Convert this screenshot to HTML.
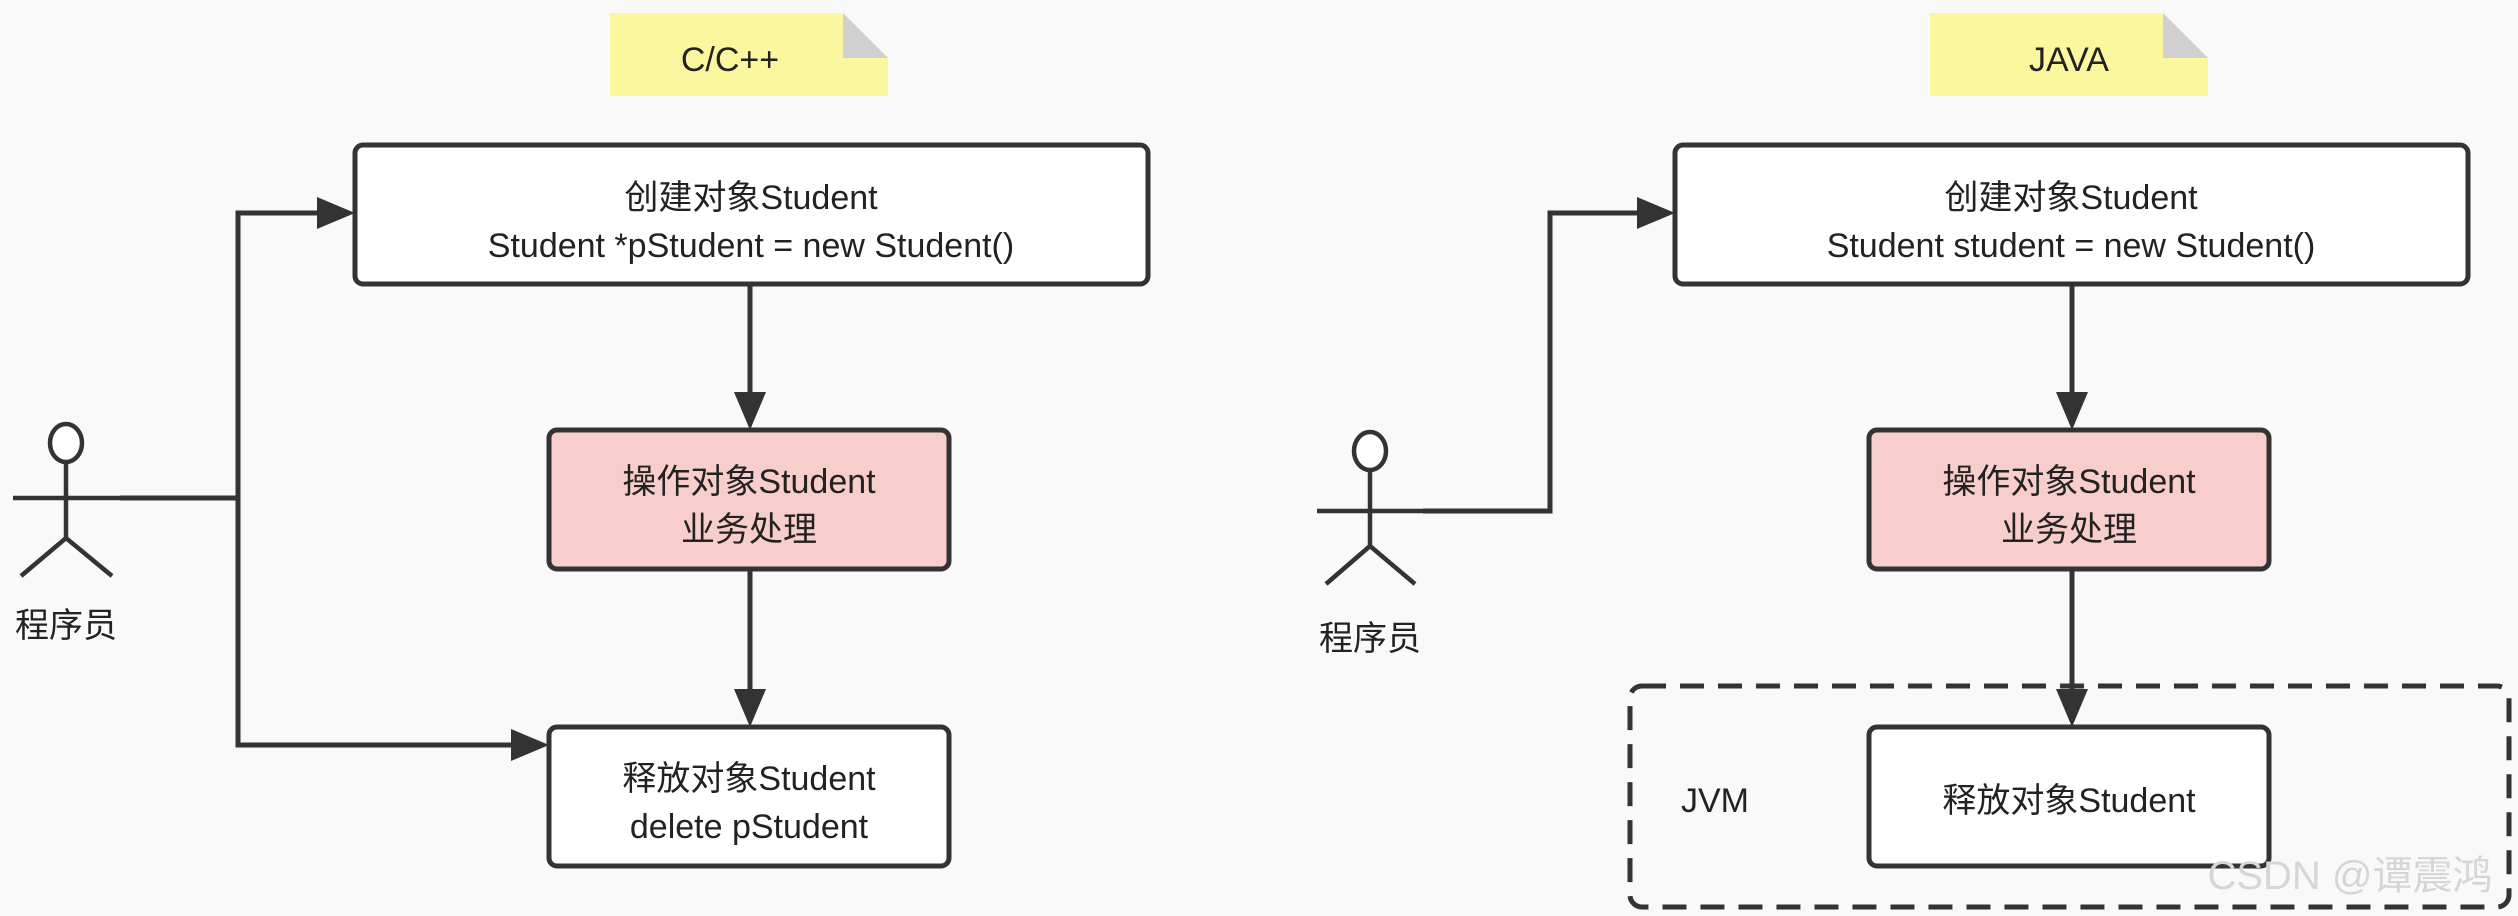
<!DOCTYPE html>
<html><head><meta charset="utf-8"><style>
html,body{margin:0;padding:0;background:#f9f9f9;}
svg{display:block}
text{font-family:"Liberation Sans","Noto Sans CJK SC",sans-serif;fill:#222;font-size:34px;text-anchor:middle;dominant-baseline:central}
</style></head><body>
<svg width="2518" height="916" viewBox="0 0 2518 916" xmlns="http://www.w3.org/2000/svg">
<defs>
<marker id="a" markerWidth="10" markerHeight="10" refX="9" refY="5" orient="auto" markerUnits="userSpaceOnUse" viewBox="0 0 10 10">
</marker>
</defs>
<rect width="2518" height="916" fill="#f9f9f9"/>
<!-- notes -->
<path d="M610 13 H843 L888 58 V96 H610 Z" fill="#fbf79e"/>
<path d="M843 13 L888 58 H843 Z" fill="#d0d0d0"/>
<text x="730" y="60">C/C++</text>
<path d="M1930 13 H2163 L2208 58 V96 H1930 Z" fill="#fbf79e"/>
<path d="M2163 13 L2208 58 H2163 Z" fill="#d0d0d0"/>
<text x="2069" y="60">JAVA</text>

<g stroke="#333" stroke-width="5" fill="none">
<!-- left connectors -->
<polyline points="120,498 238,498 238,213 320,213"/>
<polyline points="238,498 238,745 514,745"/>
<line x1="750" y1="284" x2="750" y2="395"/>
<line x1="750" y1="569" x2="750" y2="692"/>
<!-- right connectors -->
<polyline points="1423,511 1550,511 1550,213 1640,213"/>
<line x1="2072" y1="284" x2="2072" y2="395"/>
<line x1="2072" y1="569" x2="2072" y2="692"/>
<!-- dashed -->
<rect x="1630" y="686" width="879" height="221" rx="12" stroke-dasharray="24 14"/>
</g>
<g fill="#333">
<polygon points="355,213 317,197 317,229"/>
<polygon points="549,745 511,729 511,761"/>
<polygon points="750,430 734,392 766,392"/>
<polygon points="750,727 734,689 766,689"/>
<polygon points="1675,213 1637,197 1637,229"/>
<polygon points="2072,430 2056,392 2088,392"/>
<polygon points="2072,727 2056,689 2088,689"/>
</g>
<g stroke="#333" stroke-width="5">
<rect x="355" y="145" width="793" height="139" rx="8" fill="#fff"/>
<rect x="549" y="430" width="400" height="139" rx="8" fill="#f8cecc"/>
<rect x="549" y="727" width="400" height="139" rx="8" fill="#fff"/>
<rect x="1675" y="145" width="793" height="139" rx="8" fill="#fff"/>
<rect x="1869" y="430" width="400" height="139" rx="8" fill="#f8cecc"/>
<rect x="1869" y="727" width="400" height="139" rx="8" fill="#fff"/>
</g>
<text x="751" y="198">创建对象Student</text>
<text x="751" y="246">Student *pStudent = new Student()</text>
<text x="749" y="482">操作对象Student</text>
<text x="749" y="530">业务处理</text>
<text x="749" y="779">释放对象Student</text>
<text x="749" y="827">delete pStudent</text>
<text x="2071" y="198">创建对象Student</text>
<text x="2071" y="246">Student student = new Student()</text>
<text x="2069" y="482">操作对象Student</text>
<text x="2069" y="530">业务处理</text>
<text x="2069" y="801">释放对象Student</text>
<text x="1715" y="801">JVM</text>
<!-- actors -->
<g stroke="#333" stroke-width="4.5" fill="none">
<ellipse cx="66" cy="443" rx="16" ry="19" fill="#fff"/>
<line x1="66" y1="462" x2="66" y2="538"/>
<line x1="13" y1="498" x2="120" y2="498"/>
<polyline points="21,576 66,538 112,576"/>
<ellipse cx="1370" cy="451" rx="16" ry="19" fill="#fff"/>
<line x1="1370" y1="470" x2="1370" y2="546"/>
<line x1="1317" y1="511" x2="1423" y2="511"/>
<polyline points="1326,584 1370,546 1415,584"/>
</g>
<text x="66" y="626">程序员</text>
<text x="1370" y="639">程序员</text>
<text x="2350" y="876" style="fill:#d6d6d6;font-size:40px">CSDN @谭震鸿</text>
</svg>
</body></html>
